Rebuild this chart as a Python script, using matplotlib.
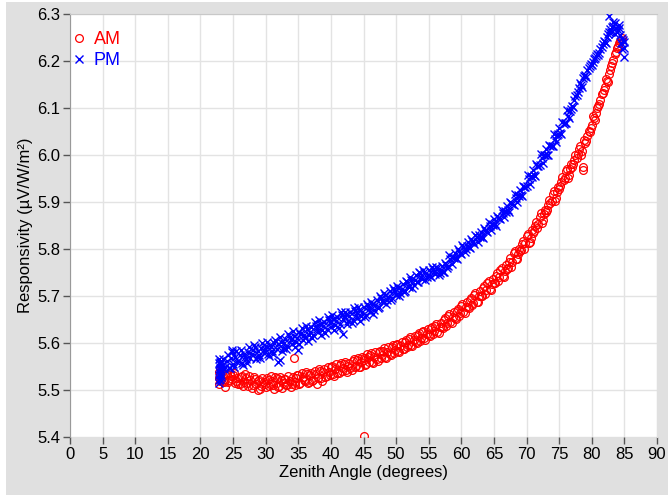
import matplotlib
matplotlib.use("Agg")
import matplotlib.pyplot as plt
from matplotlib.patches import Rectangle
from matplotlib.lines import Line2D

plt.rcParams['font.family'] = ['Liberation Sans', 'DejaVu Sans']

# ---- AM series (zenith angle, responsivity) ----
am_x = [22.8, 22.85, 22.9, 22.95, 23.0, 23.05, 23.1, 23.2, 23.33, 23.67, 23.8,
        24.0, 24.33, 24.67, 25.0, 25.33, 25.67, 26.0, 26.33, 26.67,
        27.0, 27.33, 27.67, 28.0, 28.33, 28.8, 29.0, 29.33, 29.67,
        30.0, 30.33, 30.67, 31.0, 31.33, 31.67, 32.0, 32.33, 32.67,
        33.0, 33.33, 33.67, 34.0, 34.3, 34.5, 34.67, 35.0, 35.33, 35.67,
        36.0, 36.33, 36.67, 37.0, 37.33, 37.67, 38.0, 38.33, 38.67,
        39.0, 39.33, 39.67, 40.0, 40.33, 40.67, 41.0, 41.33, 41.67,
        42.0, 42.33, 42.67, 43.0, 43.33, 43.67, 44.0, 44.33, 44.67,
        45.0, 45.0, 45.33, 45.67, 45.1, 46.0, 46.33, 46.67, 47.0, 47.33, 47.67,
        48.0, 48.33, 48.67, 49.0, 49.33, 49.67, 50.0, 50.33, 50.67,
        51.0, 51.33, 51.67, 52.0, 52.33, 52.67, 53.0, 53.33, 53.67,
        54.0, 54.33, 54.67, 55.0, 55.33, 55.67, 56.0, 56.33, 56.67,
        57.0, 57.33, 57.67, 58.0, 58.33, 58.67, 59.0, 59.33, 59.67,
        60.0, 60.33, 60.67, 61.0, 61.33, 61.67, 62.0, 62.33, 62.67,
        63.0, 63.33, 63.67, 64.0, 64.33, 64.67, 65.0, 65.33, 65.67,
        66.0, 66.33, 66.67, 67.0, 67.33, 67.67, 68.0, 68.33, 68.67,
        69.0, 69.33, 69.67, 70.0, 70.33, 70.67, 71.0, 71.33, 71.67,
        72.0, 72.33, 72.67, 73.0, 73.33, 73.67, 74.0, 74.33, 74.67,
        75.0, 75.33, 75.67, 76.0, 76.33, 76.67, 77.0, 77.33, 77.67,
        78.0, 78.33, 78.6, 78.7, 79.0, 79.33, 79.67, 80.0, 80.33, 80.67,
        81.0, 81.33, 81.67, 82.0, 82.33, 82.67, 83.0, 83.33, 83.67,
        84.0, 84.33, 84.6]
am_y = [5.512, 5.538, 5.525, 5.546, 5.519, 5.531, 5.541, 5.523, 5.528, 5.516, 5.507,
        5.534, 5.521, 5.529, 5.531, 5.515, 5.526, 5.512, 5.529, 5.518,
        5.526, 5.509, 5.522, 5.511, 5.524, 5.499, 5.521, 5.508, 5.518,
        5.506, 5.522, 5.512, 5.519, 5.503, 5.525, 5.509, 5.521, 5.514,
        5.524, 5.510, 5.519, 5.513, 5.568, 5.517, 5.526, 5.531, 5.515, 5.527,
        5.520, 5.535, 5.516, 5.537, 5.522, 5.533, 5.526, 5.541, 5.520,
        5.544, 5.529, 5.539, 5.548, 5.533, 5.545, 5.537, 5.553, 5.541,
        5.556, 5.542, 5.551, 5.546, 5.561, 5.549, 5.564, 5.550, 5.560,
        5.402, 5.569, 5.555, 5.571, 5.564, 5.574, 5.559, 5.570, 5.565, 5.580, 5.568,
        5.584, 5.570, 5.581, 5.576, 5.591, 5.579, 5.596, 5.582, 5.593,
        5.588, 5.603, 5.591, 5.609, 5.595, 5.606, 5.602, 5.617, 5.605,
        5.624, 5.610, 5.620, 5.616, 5.631, 5.620, 5.637, 5.623, 5.634,
        5.633, 5.648, 5.637, 5.658, 5.644, 5.655, 5.654, 5.669, 5.658,
        5.679, 5.665, 5.676, 5.676, 5.691, 5.680, 5.702, 5.688, 5.699,
        5.701, 5.716, 5.705, 5.728, 5.714, 5.725, 5.727, 5.742, 5.731,
        5.756, 5.742, 5.753, 5.757, 5.772, 5.761, 5.792, 5.778, 5.789,
        5.795, 5.810, 5.799, 5.827, 5.813, 5.824, 5.833, 5.848, 5.845,
        5.869, 5.855, 5.874, 5.879, 5.894, 5.898, 5.917, 5.903, 5.922,
        5.927, 5.942, 5.946, 5.965, 5.951, 5.970, 5.975, 5.990, 5.994,
        6.013, 5.999, 5.975, 5.968, 6.025, 6.040, 6.049, 6.063, 6.078, 6.090,
        6.104, 6.118, 6.131, 6.145, 6.158, 6.172, 6.190, 6.203, 6.220,
        6.232, 6.242, 6.248]

# AM, second pass of readings (between the points above)
am_x2 = [23.17, 23.5, 23.83, 24.17, 24.5, 24.83, 25.17, 25.5, 25.83, 26.17, 26.5, 26.83,
         27.17, 27.5, 27.83, 28.17, 28.5, 28.83, 29.17, 29.5, 29.83, 30.17, 30.5, 30.83,
         31.17, 31.5, 31.83, 32.17, 32.5, 32.83, 33.17, 33.5, 33.83, 34.17, 34.5, 34.83,
         35.17, 35.5, 35.83, 36.17, 36.5, 36.83, 37.17, 37.5, 37.83, 38.17, 38.5, 38.83,
         39.17, 39.5, 39.83, 40.17, 40.5, 40.83, 41.17, 41.5, 41.83, 42.17, 42.5, 42.83,
         43.17, 43.5, 43.83, 44.17, 44.5, 44.83, 45.17, 45.5, 45.83, 46.17, 46.5, 46.83,
         47.17, 47.5, 47.83, 48.17, 48.5, 48.83, 49.17, 49.5, 49.83, 50.17, 50.5, 50.83,
         51.17, 51.5, 51.83, 52.17, 52.5, 52.83, 53.17, 53.5, 53.83, 54.17, 54.5, 54.83,
         55.17, 55.5, 55.83, 56.17, 56.5, 56.83, 57.17, 57.5, 57.83, 58.17, 58.5, 58.83,
         59.17, 59.5, 59.83, 60.17, 60.5, 60.83, 61.17, 61.5, 61.83, 62.17, 62.5, 62.83,
         63.17, 63.5, 63.83, 64.17, 64.5, 64.83, 65.17, 65.5, 65.83, 66.17, 66.5, 66.83,
         67.17, 67.5, 67.83, 68.17, 68.5, 68.83, 69.17, 69.5, 69.83, 70.17, 70.5, 70.83,
         71.17, 71.5, 71.83, 72.17, 72.5, 72.83, 73.17, 73.5, 73.83, 74.17, 74.5, 74.83,
         75.17, 75.5, 75.83, 76.17, 76.5, 76.83, 77.17, 77.5, 77.83, 78.17, 78.5, 78.83,
         79.17, 79.5, 79.83, 80.17, 80.5, 80.83, 81.17, 81.5, 81.83, 82.17, 82.5, 82.83,
         83.17, 83.5, 83.83, 84.17, 84.5]
am_y2 = [5.540, 5.519, 5.533, 5.518, 5.537, 5.524, 5.537, 5.519, 5.512, 5.527, 5.508, 5.533,
         5.515, 5.530, 5.505, 5.528, 5.513, 5.520, 5.503, 5.526, 5.512, 5.525, 5.509, 5.529,
         5.510, 5.528, 5.507, 5.527, 5.504, 5.523, 5.511, 5.529, 5.506, 5.528, 5.511, 5.531,
         5.512, 5.536, 5.522, 5.538, 5.514, 5.531, 5.519, 5.540, 5.513, 5.544, 5.525, 5.538,
         5.527, 5.550, 5.532, 5.552, 5.530, 5.556, 5.536, 5.558, 5.547, 5.560, 5.538, 5.557,
         5.543, 5.566, 5.552, 5.569, 5.548, 5.571, 5.553, 5.576, 5.560, 5.579, 5.558, 5.581,
         5.562, 5.584, 5.574, 5.589, 5.569, 5.591, 5.574, 5.596, 5.585, 5.598, 5.580, 5.603,
         5.587, 5.607, 5.595, 5.612, 5.593, 5.615, 5.601, 5.621, 5.611, 5.626, 5.607, 5.629,
         5.614, 5.635, 5.626, 5.641, 5.622, 5.643, 5.631, 5.653, 5.642, 5.662, 5.642, 5.665,
         5.652, 5.673, 5.664, 5.683, 5.663, 5.687, 5.675, 5.696, 5.686, 5.706, 5.687, 5.710,
         5.700, 5.721, 5.712, 5.732, 5.713, 5.737, 5.727, 5.749, 5.740, 5.760, 5.741, 5.765,
         5.759, 5.780, 5.773, 5.796, 5.778, 5.801, 5.797, 5.818, 5.812, 5.832, 5.815, 5.840,
         5.838, 5.858, 5.853, 5.877, 5.861, 5.884, 5.884, 5.905, 5.903, 5.923, 5.908, 5.932,
         5.933, 5.953, 5.951, 5.971, 5.957, 5.980, 5.981, 6.000, 6.002, 6.020, 6.008, 6.032,
         6.030, 6.052, 6.058, 6.082, 6.075, 6.100, 6.108, 6.130, 6.138, 6.162, 6.155, 6.180,
         6.196, 6.215, 6.228, 6.238, 6.244]

# ---- PM series ----
pm_x = [22.8, 22.8, 22.85, 22.9, 22.9, 22.95, 23.0, 23.05, 23.1, 23.2, 23.33, 23.67,
        24.0, 24.33, 24.67, 24.8, 25.0, 25.33, 25.67, 26.0, 26.33, 26.67,
        27.0, 27.33, 27.67, 28.0, 28.4, 28.67, 29.0, 29.33, 29.67,
        30.0, 30.33, 30.67, 31.0, 31.33, 31.67, 31.9, 32.2, 32.33, 32.67,
        33.0, 33.33, 33.67, 34.0, 34.33, 34.67, 35.0, 35.1, 35.33, 35.67,
        36.0, 36.33, 36.67, 37.0, 37.33, 37.67, 38.0, 38.33, 38.67,
        39.0, 39.33, 39.67, 40.0, 40.33, 40.67, 41.0, 41.33, 41.67,
        41.9, 42.1, 42.33, 42.67, 43.0, 43.33, 43.67, 44.0, 44.33, 44.67,
        45.0, 45.33, 45.67, 46.0, 46.33, 46.67, 47.0, 47.33, 47.67,
        48.0, 48.33, 48.67, 49.0, 49.33, 49.67, 50.0, 50.33, 50.67,
        51.0, 51.33, 51.67, 52.0, 52.33, 52.67, 53.0, 53.33, 53.67,
        54.0, 54.33, 54.67, 55.0, 55.33, 55.67, 56.0, 56.33, 56.67,
        57.0, 57.33, 57.67, 58.0, 58.33, 58.67, 59.0, 59.33, 59.67,
        60.0, 60.33, 60.67, 61.0, 61.33, 61.67, 62.0, 62.33, 62.67,
        63.0, 63.33, 63.67, 64.0, 64.33, 64.67, 65.0, 65.33, 65.67,
        66.0, 66.33, 66.67, 67.0, 67.33, 67.67, 68.0, 68.33, 68.67,
        69.0, 69.33, 69.67, 70.0, 70.33, 70.67, 71.0, 71.33, 71.67,
        72.0, 72.33, 72.67, 73.0, 73.33, 73.67, 74.0, 74.33, 74.67,
        75.0, 75.33, 75.67, 76.0, 76.33, 76.67, 77.0, 77.33, 77.67,
        78.0, 78.33, 78.67, 79.0, 79.33, 79.67, 80.0, 80.33, 80.67,
        81.0, 81.33, 81.67, 82.0, 82.33, 82.6, 82.67, 83.0, 83.2, 83.33, 83.5,
        83.67, 84.0, 84.1, 84.33, 84.5, 84.7, 84.8, 85.0]
pm_y = [5.522, 5.558, 5.540, 5.565, 5.531, 5.550, 5.545, 5.536, 5.561, 5.528, 5.553, 5.544,
        5.561, 5.547, 5.568, 5.581, 5.555, 5.571, 5.560, 5.574, 5.558, 5.577,
        5.566, 5.581, 5.569, 5.585, 5.592, 5.570, 5.574, 5.590, 5.578,
        5.593, 5.577, 5.596, 5.582, 5.599, 5.587, 5.560, 5.563, 5.603, 5.590,
        5.609, 5.594, 5.612, 5.598, 5.615, 5.603, 5.585, 5.624, 5.620, 5.607,
        5.612, 5.630, 5.616, 5.633, 5.618, 5.637, 5.623, 5.641, 5.628,
        5.645, 5.629, 5.648, 5.634, 5.652, 5.638, 5.656, 5.640, 5.659,
        5.620, 5.655, 5.661, 5.646, 5.665, 5.649, 5.668, 5.653, 5.670, 5.657,
        5.676, 5.660, 5.679, 5.665, 5.682, 5.670, 5.692, 5.677, 5.695,
        5.688, 5.703, 5.692, 5.710, 5.696, 5.713, 5.703, 5.718, 5.707,
        5.726, 5.711, 5.729, 5.720, 5.735, 5.724, 5.745, 5.730, 5.748,
        5.736, 5.751, 5.740, 5.755, 5.741, 5.758, 5.746, 5.759, 5.749,
        5.764, 5.751, 5.767, 5.763, 5.778, 5.783, 5.792, 5.779, 5.795,
        5.790, 5.804, 5.801, 5.815, 5.802, 5.818, 5.811, 5.825, 5.829,
        5.837, 5.823, 5.840, 5.836, 5.850, 5.854, 5.863, 5.850, 5.867,
        5.863, 5.877, 5.881, 5.892, 5.879, 5.897, 5.894, 5.908, 5.915,
        5.925, 5.912, 5.932, 5.934, 5.948, 5.955, 5.969, 5.956, 5.977,
        5.979, 5.993, 6.000, 6.012, 5.999, 6.019, 6.019, 6.033, 6.042,
        6.057, 6.044, 6.066, 6.069, 6.084, 6.093, 6.105, 6.116, 6.128,
        6.142, 6.150, 6.163, 6.170, 6.181, 6.190, 6.192, 6.204, 6.211,
        6.213, 6.225, 6.236, 6.240, 6.252, 6.296, 6.262, 6.262, 6.283, 6.275, 6.258,
        6.270, 6.265, 6.270, 6.255, 6.238, 6.225, 6.245, 6.208]

# PM, second pass of readings
pm_x2 = [22.85, 22.95, 23.0, 23.05, 23.17, 23.5, 23.83,
         24.17, 24.5, 24.83, 25.17, 25.5, 25.83, 26.17, 26.5, 26.83,
         27.17, 27.5, 27.83, 28.17, 28.5, 28.83, 29.17, 29.5, 29.83, 30.17, 30.5, 30.83,
         31.17, 31.5, 31.83, 32.17, 32.5, 32.83, 33.17, 33.5, 33.83, 34.17, 34.5, 34.83,
         35.17, 35.5, 35.83, 36.17, 36.5, 36.83, 37.17, 37.5, 37.83, 38.17, 38.5, 38.83,
         39.17, 39.5, 39.83, 40.17, 40.5, 40.83, 41.17, 41.5, 41.83, 42.17, 42.5, 42.83,
         43.17, 43.5, 43.83, 44.17, 44.5, 44.83, 45.17, 45.5, 45.83, 46.17, 46.5, 46.83,
         47.17, 47.5, 47.83, 48.17, 48.5, 48.83, 49.17, 49.5, 49.83, 50.17, 50.5, 50.83,
         51.17, 51.5, 51.83, 52.17, 52.5, 52.83, 53.17, 53.5, 53.83, 54.17, 54.5, 54.83,
         55.17, 55.5, 55.83, 56.17, 56.5, 56.83, 57.17, 57.5, 57.83, 58.17, 58.5, 58.83,
         59.17, 59.5, 59.83, 60.17, 60.5, 60.83, 61.17, 61.5, 61.83, 62.17, 62.5, 62.83,
         63.17, 63.5, 63.83, 64.17, 64.5, 64.83, 65.17, 65.5, 65.83, 66.17, 66.5, 66.83,
         67.17, 67.5, 67.83, 68.17, 68.5, 68.83, 69.17, 69.5, 69.83, 70.17, 70.5, 70.83,
         71.17, 71.5, 71.83, 72.17, 72.5, 72.83, 73.17, 73.5, 73.83, 74.17, 74.5, 74.83,
         75.17, 75.5, 75.83, 76.17, 76.5, 76.83, 77.17, 77.5, 77.83, 78.17, 78.5, 78.83,
         79.17, 79.5, 79.83, 80.17, 80.5, 80.83, 81.17, 81.5, 81.83, 82.17, 82.5, 82.83,
         83.17, 83.5, 83.83, 84.17, 84.6, 84.9, 85.0]
pm_y2 = [5.515, 5.556, 5.524, 5.560, 5.532, 5.566, 5.548,
         5.574, 5.546, 5.585, 5.549, 5.583, 5.562, 5.585, 5.553, 5.571,
         5.558, 5.592, 5.577, 5.596, 5.565, 5.584, 5.568, 5.600, 5.588, 5.603, 5.572, 5.592,
         5.576, 5.606, 5.597, 5.612, 5.582, 5.601, 5.587, 5.620, 5.606, 5.625, 5.592, 5.611,
         5.598, 5.631, 5.618, 5.637, 5.604, 5.624, 5.610, 5.644, 5.630, 5.649, 5.616, 5.636,
         5.621, 5.655, 5.642, 5.659, 5.627, 5.646, 5.632, 5.665, 5.651, 5.667, 5.640, 5.658,
         5.643, 5.674, 5.660, 5.676, 5.647, 5.666, 5.655, 5.684, 5.672, 5.688, 5.661, 5.680,
         5.674, 5.701, 5.690, 5.707, 5.682, 5.698, 5.692, 5.717, 5.709, 5.721, 5.699, 5.715,
         5.708, 5.732, 5.722, 5.740, 5.718, 5.733, 5.729, 5.752, 5.741, 5.755, 5.734, 5.745,
         5.743, 5.762, 5.751, 5.762, 5.744, 5.755, 5.752, 5.771, 5.760, 5.787, 5.768, 5.780,
         5.781, 5.799, 5.792, 5.808, 5.793, 5.806, 5.804, 5.821, 5.814, 5.830, 5.815, 5.826,
         5.826, 5.844, 5.838, 5.857, 5.841, 5.852, 5.853, 5.871, 5.865, 5.884, 5.868, 5.879,
         5.882, 5.901, 5.896, 5.917, 5.900, 5.913, 5.914, 5.935, 5.931, 5.958, 5.939, 5.953,
         5.958, 5.980, 5.976, 6.003, 5.984, 5.999, 6.000, 6.022, 6.020, 6.045, 6.027, 6.044,
         6.047, 6.070, 6.068, 6.096, 6.078, 6.097, 6.102, 6.126, 6.134, 6.153, 6.144, 6.168,
         6.166, 6.186, 6.194, 6.197, 6.207, 6.215, 6.216, 6.230, 6.242, 6.238, 6.258, 6.268,
         6.272, 6.280, 6.262, 6.276, 6.250, 6.228, 6.240]

x_ticks = list(range(0, 95, 5))
y_ticks = [5.4, 5.5, 5.6, 5.7, 5.8, 5.9, 6.0, 6.1, 6.2, 6.3]
x_label = "Zenith Angle (degrees)"
y_label = "Responsivity (\u00b5V/W/m\u00b2)"

AM_COLOR = '#ff0000'
PM_COLOR = '#0000ff'
AM_STYLE = dict(linestyle='none', marker='o', markersize=5.6, markerfacecolor='none',
                markeredgecolor=AM_COLOR, markeredgewidth=0.9)
PM_STYLE = dict(linestyle='none', marker='x', markersize=6, markeredgecolor=PM_COLOR,
                markeredgewidth=1.0)

W, H = 668, 497
fig = plt.figure(figsize=(W / 100, H / 100), dpi=100)
fig.patch.set_facecolor('white')
bg = Rectangle((6 / W, 2 / H), (W - 6) / W, (H - 4) / H, transform=fig.transFigure,
               facecolor='#e0e0e0', edgecolor='none', zorder=-10)
fig.patches.append(bg)

ax = fig.add_axes([70 / W, 1 - 437 / H, 587 / W, 423 / H])
ax.set_facecolor('white')

ax.plot(am_x, am_y, zorder=3, **AM_STYLE)
ax.plot(am_x2, am_y2, zorder=3, **AM_STYLE)
ax.plot(pm_x, pm_y, zorder=4, **PM_STYLE)
ax.plot(pm_x2, pm_y2, zorder=4, **PM_STYLE)

ax.set_xlim(0, 90)
ax.set_ylim(5.4, 6.3)
ax.set_xticks(x_ticks)
ax.set_yticks(y_ticks)
ax.set_xticklabels([str(t) for t in x_ticks])
ax.set_yticklabels([f"{t:.1f}" for t in y_ticks])
ax.grid(True, color='#e3e3e3', linewidth=1.0)
ax.set_axisbelow(True)
ax.tick_params(direction='out', length=5, width=1, colors='#000000',
               labelsize=12, pad=2)
ax.tick_params(axis='both', color='#555555')
ax.spines['left'].set_color('#999999')
ax.spines['bottom'].set_visible(False)
ax.spines['top'].set_color('#c8c8c8')
ax.spines['right'].set_color('#e0e0e0')

ax.set_xlabel(x_label, fontsize=12, labelpad=2)
ax.set_ylabel(y_label, fontsize=12, labelpad=3)

handles = [Line2D([], [], **AM_STYLE), Line2D([], [], **PM_STYLE)]
leg = ax.legend(handles, ['AM', 'PM'], loc='upper left', bbox_to_anchor=(-0.018, 0.99),
                frameon=False, fontsize=13, handlelength=0.8, handletextpad=0.4,
                labelspacing=0.25, borderaxespad=0.3)
for t, c in zip(leg.get_texts(), [AM_COLOR, PM_COLOR]):
    t.set_color(c)

fig.savefig('out.png', dpi=100, facecolor=fig.get_facecolor())
